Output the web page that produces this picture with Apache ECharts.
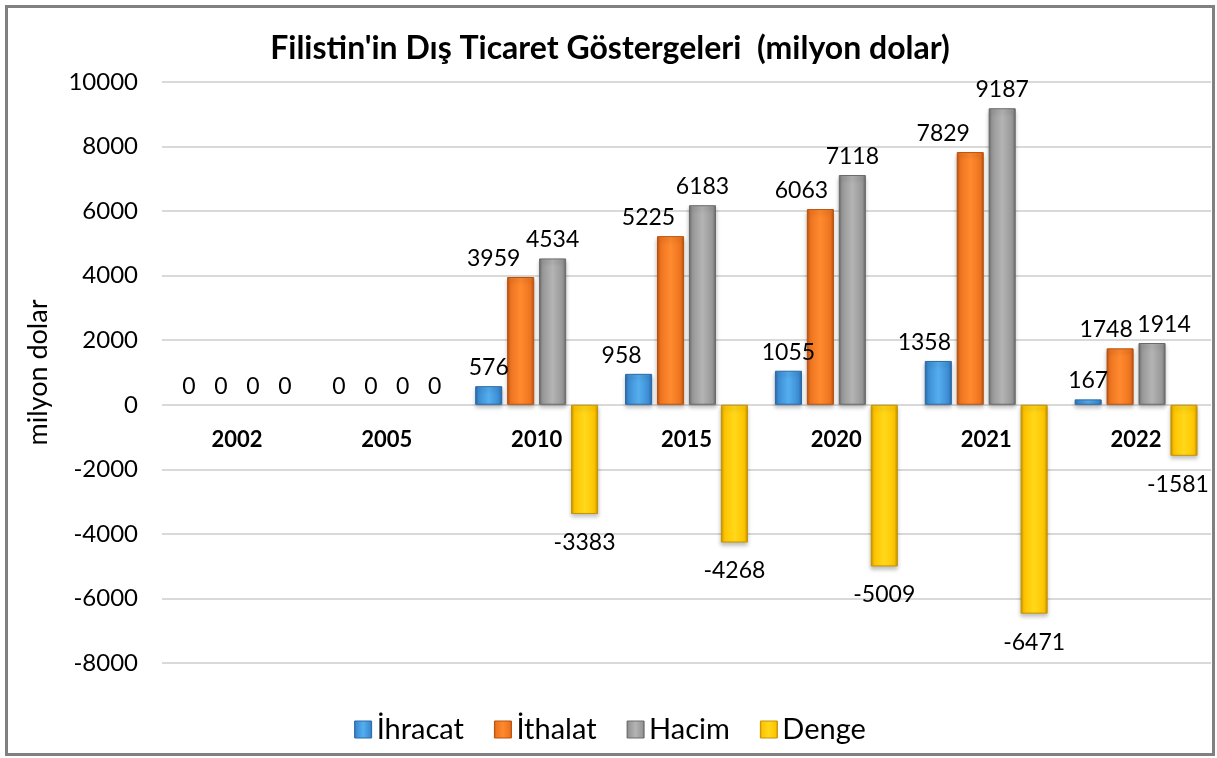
<!DOCTYPE html>
<html>
<head>
<meta charset="utf-8">
<script src="https://cdn.jsdelivr.net/npm/echarts@6/dist/echarts.min.js"></script>
<style>
html,body{margin:0;padding:0;background:#fff;}
#wrap{position:absolute;left:5px;top:5px;width:1204px;height:745px;border:3px solid #808080;}
#chart{width:100%;height:100%;}
</style>
</head>
<body>
<div id="wrap"><div id="chart"></div></div>
<script>
const categories = ['2002', '2005', '2010', '2015', '2020', '2021', '2022'];
const seriesNames = ['İhracat', 'İthalat', 'Hacim', 'Denge'];
const ihracat = [0, 0, 576, 958, 1055, 1358, 167];
const ithalat = [0, 0, 3959, 5225, 6063, 7829, 1748];
const hacim = [0, 0, 4534, 6183, 7118, 9187, 1914];
const denge = [0, 0, -3383, -4268, -5009, -6471, -1581];
const yTicks = [-8000, -6000, -4000, -2000, 0, 2000, 4000, 6000, 8000, 10000];

// style: sideways nudges of some value labels, as placed in the original to avoid overlaps
const labelNudge = {
  'İhracat': {'2015': -17, '2021': -14},
  'İthalat': {'2010': -27, '2015': -22, '2020': -19, '2021': -27, '2022': -14},
  'Hacim': {'2022': 12},
  'Denge': {'2022': -6}
};

const palettes = [
  {dark: '#2A68A8', mid: '#3C8DD4', light: '#55AEEE'},
  {dark: '#B9520E', mid: '#EE7420', light: '#FF8A2E'},
  {dark: '#6A6A6A', mid: '#979797', light: '#B4B4B4'},
  {dark: '#C29400', mid: '#FFC400', light: '#FFD81A'}
];
const FONT = 'Lato';

function grad(p) {
  return new echarts.graphic.LinearGradient(0, 0, 1, 0, [
    {offset: 0, color: p.dark},
    {offset: 0.12, color: p.mid},
    {offset: 0.5, color: p.light},
    {offset: 0.88, color: p.mid},
    {offset: 1, color: p.dark}
  ]);
}

function makeSeries(name, values, idx) {
  const p = palettes[idx];
  const nudge = labelNudge[name] || {};
  return {
    name: name,
    type: 'bar',
    barGap: '18%',
    barCategoryGap: '18%',
    itemStyle: {color: grad(p), borderColor: p.dark, borderWidth: 1,
      shadowColor: 'rgba(0,0,0,0.25)', shadowBlur: 4, shadowOffsetY: 3},
    data: values.map((v, i) => {
      const dx = nudge[categories[i]] || 0;
      const item = {
        value: v,
        label: v < 0 ? {position: 'bottom', distance: 17, offset: [dx, 0]}
                     : {position: 'top', distance: 7, offset: [dx, 0]}
      };
      if (v === 0) item.itemStyle = {color: 'rgba(0,0,0,0)', borderWidth: 0, shadowBlur: 0, shadowColor: 'rgba(0,0,0,0)'};
      return item;
    }),
    label: {show: true, color: '#000', fontFamily: FONT, fontSize: 23},
    emphasis: {disabled: true}
  };
}

const chart = echarts.init(document.getElementById('chart'));
chart.setOption({
  animation: false,
  color: palettes.map(p => p.mid),
  title: {
    text: "Filistin'in Dış Ticaret Göstergeleri  (milyon dolar)",
    left: 'center', top: 20,
    textStyle: {fontFamily: FONT, fontWeight: 'bold', fontSize: 32, color: '#000'}
  },
  legend: {
    bottom: 4, left: 'center', icon: 'rect',
    itemWidth: 17, itemHeight: 17, itemGap: 30,
    textStyle: {fontFamily: FONT, fontSize: 29, color: '#000'},
    data: seriesNames.map((n, i) => ({name: n, itemStyle: {color: grad(palettes[i]), borderColor: palettes[i].dark, borderWidth: 1}}))
  },
  grid: {left: 154, right: 1, top: 74, bottom: 90},
  xAxis: {
    type: 'category', data: categories,
    axisLine: {show: false, onZero: false},
    axisTick: {show: false},
    axisLabel: {fontFamily: FONT, fontWeight: 'bold', fontSize: 22, color: '#000', margin: 24}
  },
  yAxis: {
    type: 'value', min: yTicks[0], max: yTicks[yTicks.length - 1], interval: 2000,
    name: 'milyon dolar', nameLocation: 'middle', nameGap: 110, nameRotate: 90,
    nameTextStyle: {fontFamily: FONT, fontSize: 27, color: '#000'},
    axisLine: {show: false}, axisTick: {show: false},
    axisLabel: {fontFamily: FONT, fontSize: 24, color: '#000', margin: 24, formatter: v => String(v)},
    splitLine: {lineStyle: {color: '#d9d9d9', width: 2}}
  },
  series: [
    makeSeries(seriesNames[0], ihracat, 0),
    makeSeries(seriesNames[1], ithalat, 1),
    makeSeries(seriesNames[2], hacim, 2),
    makeSeries(seriesNames[3], denge, 3)
  ]
});
// move category labels to the zero line, using the library's own scale
const zeroY = chart.convertToPixel({yAxisIndex: 0}, 0);
const bottomY = chart.convertToPixel({yAxisIndex: 0}, yTicks[0]);
chart.setOption({xAxis: {offset: -(bottomY - zeroY)}});
</script>
</body>
</html>
